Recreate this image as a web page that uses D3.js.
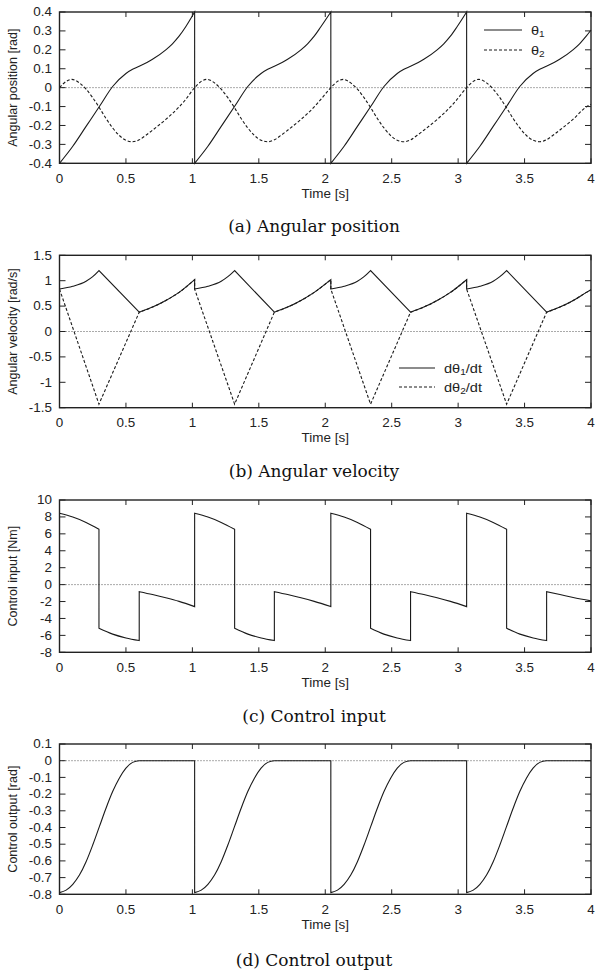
<!DOCTYPE html>
<html lang="en">
<head>
<meta charset="utf-8">
<title>Angular position, velocity, control input and output</title>
<script src="https://cdn.jsdelivr.net/npm/d3@7"></script>
<style>
  body { margin: 0; background: #fff; }
  svg { display: block; }
  .tick-label, .axis-title, .legend-text { font-family: "Liberation Sans", Arial, sans-serif; fill: #222; }
  .caption { font-family: "DejaVu Serif", serif; fill: #111; }
</style>
</head>
<body>
<script>
// ---- data ----
var timeTicks = [0, 0.5, 1, 1.5, 2, 2.5, 3, 3.5, 4];
var timeTickLabels = ["0", "0.5", "1", "1.5", "2", "2.5", "3", "3.5", "4"];

var posTicks = [-0.4, -0.3, -0.2, -0.1, 0, 0.1, 0.2, 0.3, 0.4];
var posTickLabels = ["-0.4", "-0.3", "-0.2", "-0.1", "0", "0.1", "0.2", "0.3", "0.4"];
var velTicks = [-1.5, -1, -0.5, 0, 0.5, 1, 1.5];
var velTickLabels = ["-1.5", "-1", "-0.5", "0", "0.5", "1", "1.5"];
var inputTicks = [-8, -6, -4, -2, 0, 2, 4, 6, 8, 10];
var inputTickLabels = ["-8", "-6", "-4", "-2", "0", "2", "4", "6", "8", "10"];
var outputTicks = [-0.8, -0.7, -0.6, -0.5, -0.4, -0.3, -0.2, -0.1, 0, 0.1];
var outputTickLabels = ["-0.8", "-0.7", "-0.6", "-0.5", "-0.4", "-0.3", "-0.2", "-0.1", "0", "0.1"];

// [time, value]; a repeated time marks a jump or a kink
var theta1 = [
  [0,-0.4],[0.1,-0.31],[0.2,-0.205],[0.3,-0.1],[0.4,0.006],[0.5,0.075],[0.55,0.097],[0.6,0.113],[0.7,0.15],[0.8,0.2],[0.85,0.232],[0.9,0.272],[0.95,0.322],[1.017,0.4],
  [1.017,-0.4],[1.117,-0.31],[1.217,-0.205],[1.317,-0.1],[1.417,0.006],[1.517,0.075],[1.567,0.097],[1.617,0.113],[1.717,0.15],[1.817,0.2],[1.867,0.232],[1.917,0.272],[1.967,0.322],[2.042,0.4],
  [2.042,-0.4],[2.142,-0.31],[2.242,-0.205],[2.342,-0.1],[2.442,0.006],[2.542,0.075],[2.592,0.097],[2.642,0.113],[2.742,0.15],[2.842,0.2],[2.892,0.232],[2.942,0.272],[2.992,0.322],[3.064,0.4],
  [3.064,-0.4],[3.164,-0.31],[3.264,-0.205],[3.364,-0.1],[3.464,0.006],[3.564,0.075],[3.614,0.097],[3.664,0.113],[3.764,0.15],[3.864,0.2],[3.914,0.232],[3.964,0.272],[4,0.305]
];
var theta2 = [
  [0,0],[0.05,0.033],[0.093,0.044],[0.15,0.025],[0.2,-0.008],[0.25,-0.053],[0.3,-0.106],[0.35,-0.163],[0.4,-0.213],[0.45,-0.253],[0.5,-0.278],[0.55,-0.286],[0.6,-0.276],[0.65,-0.252],[0.7,-0.225],[0.8,-0.168],[0.9,-0.102],[0.95,-0.062],
  [1.017,0],[1.067,0.033],[1.11,0.044],[1.167,0.025],[1.217,-0.008],[1.267,-0.053],[1.317,-0.106],[1.367,-0.163],[1.417,-0.213],[1.467,-0.253],[1.517,-0.278],[1.567,-0.286],[1.617,-0.276],[1.667,-0.252],[1.717,-0.225],[1.817,-0.168],[1.917,-0.102],[1.967,-0.062],
  [2.042,0],[2.092,0.033],[2.135,0.044],[2.192,0.025],[2.242,-0.008],[2.292,-0.053],[2.342,-0.106],[2.392,-0.163],[2.442,-0.213],[2.492,-0.253],[2.542,-0.278],[2.592,-0.286],[2.642,-0.276],[2.692,-0.252],[2.742,-0.225],[2.842,-0.168],[2.942,-0.102],[2.992,-0.062],
  [3.064,0],[3.114,0.033],[3.157,0.044],[3.214,0.025],[3.264,-0.008],[3.314,-0.053],[3.364,-0.106],[3.414,-0.163],[3.464,-0.213],[3.514,-0.253],[3.564,-0.278],[3.614,-0.286],[3.664,-0.276],[3.714,-0.252],[3.764,-0.225],[3.864,-0.168],[3.964,-0.102],[4,-0.088]
];
var dtheta1 = [
  [0,0.835],[0.1,0.89],[0.2,0.99],[0.25,1.08],[0.297,1.2],[0.297,1.2],[0.6,0.38],[0.6,0.38],[0.7,0.48],[0.8,0.61],[0.9,0.77],[1.017,1.02],
  [1.017,0.835],[1.117,0.89],[1.217,0.99],[1.267,1.08],[1.318,1.2],[1.318,1.2],[1.617,0.38],[1.617,0.38],[1.717,0.48],[1.817,0.61],[1.917,0.77],[2.042,1.02],
  [2.042,0.835],[2.142,0.89],[2.242,0.99],[2.292,1.08],[2.341,1.2],[2.341,1.2],[2.642,0.38],[2.642,0.38],[2.742,0.48],[2.842,0.61],[2.942,0.77],[3.064,1.02],
  [3.064,0.835],[3.164,0.89],[3.264,0.99],[3.314,1.08],[3.365,1.2],[3.365,1.2],[3.666,0.38],[3.666,0.38],[3.766,0.48],[3.866,0.61],[3.966,0.77],[4,0.82]
];
var dtheta2 = [
  [0,0.835],[0.297,-1.43],[0.297,-1.43],[0.6,0.38],[0.6,0.38],[0.7,0.48],[0.8,0.61],[0.9,0.77],[1.017,1.02],
  [1.017,0.835],[1.318,-1.43],[1.318,-1.43],[1.617,0.38],[1.617,0.38],[1.717,0.48],[1.817,0.61],[1.917,0.77],[2.042,1.02],
  [2.042,0.835],[2.341,-1.43],[2.341,-1.43],[2.642,0.38],[2.642,0.38],[2.742,0.48],[2.842,0.61],[2.942,0.77],[3.064,1.02],
  [3.064,0.835],[3.365,-1.43],[3.365,-1.43],[3.666,0.38],[3.666,0.38],[3.766,0.48],[3.866,0.61],[3.966,0.77],[4,0.82]
];
var controlInput = [
  [0,8.43],[0.1,7.98],[0.2,7.35],[0.297,6.54],[0.297,-5.16],[0.4,-5.85],[0.5,-6.3],[0.6,-6.61],[0.6,-0.83],[0.7,-1.17],[0.8,-1.55],[0.9,-1.98],[1.017,-2.6],
  [1.017,8.43],[1.117,7.98],[1.217,7.35],[1.318,6.54],[1.318,-5.16],[1.418,-5.85],[1.518,-6.3],[1.617,-6.61],[1.617,-0.83],[1.717,-1.17],[1.817,-1.55],[1.917,-1.98],[2.042,-2.6],
  [2.042,8.43],[2.142,7.98],[2.242,7.35],[2.341,6.54],[2.341,-5.16],[2.441,-5.85],[2.541,-6.3],[2.642,-6.61],[2.642,-0.83],[2.742,-1.17],[2.842,-1.55],[2.942,-1.98],[3.064,-2.6],
  [3.064,8.43],[3.164,7.98],[3.264,7.35],[3.365,6.54],[3.365,-5.16],[3.465,-5.85],[3.565,-6.3],[3.666,-6.61],[3.666,-0.83],[3.766,-1.17],[3.866,-1.52],[4,-1.92]
];
var controlOutput = [
  [0,-0.79],[0.05,-0.775],[0.1,-0.74],[0.15,-0.685],[0.2,-0.605],[0.25,-0.505],[0.3,-0.395],[0.35,-0.285],[0.4,-0.185],[0.45,-0.105],[0.5,-0.045],[0.55,-0.01],[0.6,0],[1.017,0],
  [1.017,-0.79],[1.067,-0.775],[1.117,-0.74],[1.167,-0.685],[1.217,-0.605],[1.267,-0.505],[1.317,-0.395],[1.367,-0.285],[1.417,-0.185],[1.467,-0.105],[1.517,-0.045],[1.567,-0.01],[1.617,0],[2.042,0],
  [2.042,-0.79],[2.092,-0.775],[2.142,-0.74],[2.192,-0.685],[2.242,-0.605],[2.292,-0.505],[2.342,-0.395],[2.392,-0.285],[2.442,-0.185],[2.492,-0.105],[2.542,-0.045],[2.592,-0.01],[2.642,0],[3.064,0],
  [3.064,-0.79],[3.114,-0.775],[3.164,-0.74],[3.214,-0.685],[3.264,-0.605],[3.314,-0.505],[3.364,-0.395],[3.414,-0.285],[3.464,-0.185],[3.514,-0.105],[3.564,-0.045],[3.614,-0.01],[3.664,0],[4,0]
];

// ---- layout ----
var width = 596, height = 971;
var plotLeft = 59.5, plotRight = 591;
var textStretch = 1.12;   // the reference text is a bit wider than plain Helvetica

var svg = d3.select("body").append("svg")
    .attr("width", width)
    .attr("height", height);

var x = d3.scaleLinear().domain([0, 4]).range([plotLeft, plotRight]);

// horizontal text, slightly stretched sideways
function wideText(g, px, py, str, anchor, size, cls) {
  return g.append("text")
    .attr("class", cls)
    .attr("transform", "translate(" + px + "," + py + ") scale(" + textStretch + ",1)")
    .attr("text-anchor", anchor)
    .attr("dominant-baseline", "central")
    .attr("font-size", size)
    .text(str);
}

// split at repeated times, curve each piece, join them with straight jumps
function jumpPath(points, y) {
  var line = d3.line()
      .x(function(d) { return x(d[0]); })
      .y(function(d) { return y(d[1]); })
      .curve(d3.curveMonotoneX);
  var pieces = [], cur = [];
  points.forEach(function(p, i) {
    if (i > 0 && p[0] === points[i - 1][0]) { pieces.push(cur); cur = []; }
    cur.push(p);
  });
  pieces.push(cur);
  return pieces.map(function(p, i) {
    var d = line(p).replace(/Z$/, "");
    return i ? d.replace(/^M/, "L") : d;
  }).join("");
}

function drawPanel(cfg) {
  var top = cfg.top, bottom = cfg.bottom;
  var y = d3.scaleLinear().domain(cfg.domain).range([bottom, top]);
  var g = svg.append("g");

  // zero line
  g.append("line")
    .attr("x1", plotLeft).attr("x2", plotRight)
    .attr("y1", y(0)).attr("y2", y(0))
    .attr("stroke", "#555").attr("stroke-width", 1)
    .attr("stroke-dasharray", "1,2");

  // series
  cfg.series.forEach(function(s) {
    g.append("path")
      .attr("d", jumpPath(s.data, y))
      .attr("fill", "none")
      .attr("stroke", "#1a1a1a")
      .attr("stroke-width", 1.1)
      .attr("stroke-dasharray", s.dashed ? "3,2" : null);
  });

  // frame
  g.append("rect")
    .attr("x", plotLeft).attr("y", top)
    .attr("width", plotRight - plotLeft).attr("height", bottom - top)
    .attr("fill", "none").attr("stroke", "#222").attr("stroke-width", 1.4);

  // inward ticks on all four sides
  timeTicks.forEach(function(t, i) {
    g.append("line").attr("x1", x(t)).attr("x2", x(t)).attr("y1", bottom).attr("y2", bottom - 5)
      .attr("stroke", "#222");
    g.append("line").attr("x1", x(t)).attr("x2", x(t)).attr("y1", top).attr("y2", top + 5)
      .attr("stroke", "#222");
    wideText(g, x(t), bottom + 15, timeTickLabels[i], "middle", 12, "tick-label");
  });
  cfg.ticks.forEach(function(v, i) {
    g.append("line").attr("x1", plotLeft).attr("x2", plotLeft + 6).attr("y1", y(v)).attr("y2", y(v))
      .attr("stroke", "#222");
    g.append("line").attr("x1", plotRight).attr("x2", plotRight - 6).attr("y1", y(v)).attr("y2", y(v))
      .attr("stroke", "#222");
    wideText(g, 52, y(v), cfg.tickLabels[i], "end", 12, "tick-label");
  });

  // axis titles
  wideText(g, (plotLeft + plotRight) / 2, bottom + 30, "Time [s]", "middle", 12, "axis-title");
  g.append("text")
    .attr("class", "axis-title")
    .attr("transform", "translate(13," + ((top + bottom) / 2) + ") rotate(-90)")
    .attr("text-anchor", "middle")
    .attr("dominant-baseline", "central")
    .attr("font-size", 12.5)
    .text(cfg.yTitle);

  // legend
  if (cfg.legend) {
    cfg.legend.forEach(function(l, i) {
      var ly = cfg.legendY + i * cfg.legendGap;
      g.append("line")
        .attr("x1", cfg.legendX1).attr("x2", cfg.legendX2)
        .attr("y1", ly).attr("y2", ly)
        .attr("stroke", "#1a1a1a").attr("stroke-width", 1.1)
        .attr("stroke-dasharray", l.dashed ? "3,2" : null);
      var t = wideText(g, cfg.legendX2 + 9, ly, "", "start", 13, "legend-text");
      t.append("tspan").text(l.pre);
      t.append("tspan").attr("font-size", 9).attr("dy", 3).text(l.sub);
      if (l.post) t.append("tspan").attr("dy", -3).text(l.post);
    });
  }

  // caption
  g.append("text")
    .attr("class", "caption")
    .attr("x", 314).attr("y", cfg.captionY)
    .attr("text-anchor", "middle")
    .attr("dominant-baseline", "central")
    .attr("font-size", 17)
    .text(cfg.caption);
}

drawPanel({
  top: 12, bottom: 163.3, domain: [-0.4, 0.4],
  ticks: posTicks, tickLabels: posTickLabels,
  yTitle: "Angular position [rad]", caption: "(a) Angular position", captionY: 226,
  series: [{ data: theta2, dashed: true }, { data: theta1, dashed: false }],
  legend: [{ pre: "\u03b8", sub: "1" , dashed: false }, { pre: "\u03b8", sub: "2", dashed: true }],
  legendX1: 484, legendX2: 522, legendY: 30, legendGap: 20
});

drawPanel({
  top: 255.3, bottom: 407.7, domain: [-1.5, 1.5],
  ticks: velTicks, tickLabels: velTickLabels,
  yTitle: "Angular velocity [rad/s]", caption: "(b) Angular velocity", captionY: 471,
  series: [{ data: dtheta2, dashed: true }, { data: dtheta1, dashed: false }],
  legend: [{ pre: "d\u03b8", sub: "1", post: "/dt", dashed: false }, { pre: "d\u03b8", sub: "2", post: "/dt", dashed: true }],
  legendX1: 399, legendX2: 435, legendY: 368, legendGap: 19
});

drawPanel({
  top: 500, bottom: 652.3, domain: [-8, 10],
  ticks: inputTicks, tickLabels: inputTickLabels,
  yTitle: "Control input [Nm]", caption: "(c) Control input", captionY: 716,
  series: [{ data: controlInput, dashed: false }]
});

drawPanel({
  top: 744, bottom: 894.3, domain: [-0.8, 0.1],
  ticks: outputTicks, tickLabels: outputTickLabels,
  yTitle: "Control output [rad]", caption: "(d) Control output", captionY: 960,
  series: [{ data: controlOutput, dashed: false }]
});
</script>
</body>
</html>
